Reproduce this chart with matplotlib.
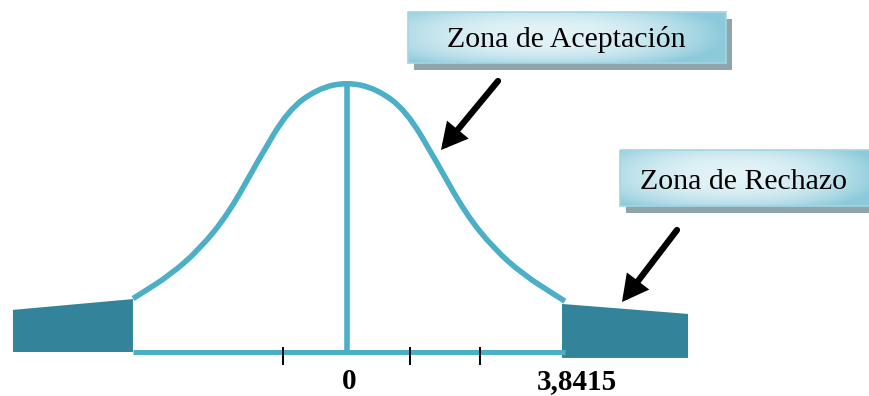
import matplotlib

matplotlib.use("Agg")
import matplotlib.pyplot as plt
import numpy as np
from matplotlib.colors import LinearSegmentedColormap
from matplotlib.patches import PathPatch, Polygon, Rectangle
from matplotlib.path import Path

# bell curve: z position and relative height (peak = 1)
curve_z = [-1.814, -1.75, -1.5, -1.25, -1.0, -0.75, -0.5, -0.25,
           0.0, 0.25, 0.5, 0.75, 1.0, 1.25, 1.5, 1.75, 1.847]
curve_h = [0.198, 0.215, 0.285, 0.380, 0.515, 0.712, 0.895, 0.975,
           1.0, 0.975, 0.895, 0.712, 0.515, 0.380, 0.285, 0.215, 0.188]

# rejection tails: (z, top height) at outer and inner edge, bottom height
tail_left = [(-2.831, 0.156), (-1.814, 0.196)]
tail_left_bottom = 0.0
tail_right = [(1.822, 0.178), (2.890, 0.141)]
tail_right_bottom = -0.022

tick_z = [-0.54, 0.53, 1.13]
value_labels = ["0", "3,8415"]
value_z = [0.02, 1.95]
box_texts = ["Zona de Aceptación", "Zona de Rechazo"]

CURVE = "#4BAFC8"
TAIL = "#33849A"

fig = plt.figure(figsize=(8.7, 3.96), dpi=100)
ax = fig.add_axes([0, 0, 1, 1])
ax.set_xlim(-347 / 118, 523 / 118)
ax.set_ylim(-44 / 270, 352 / 270)
ax.axis("off")

# shaded tails
for pts, bot in ((tail_left, tail_left_bottom), (tail_right, tail_right_bottom)):
    (x0, y0), (x1, y1) = pts
    ax.add_patch(Polygon([(x0, bot), (x0, y0), (x1, y1), (x1, bot)], closed=True,
                         facecolor=TAIL, edgecolor="none", zorder=2))

# baseline between the tails
ax.plot([curve_z[0], curve_z[-1]], [0, 0], color=CURVE, lw=3.6,
        solid_capstyle="butt", zorder=3)

# smooth the read points with quadratic bezier segments (control = read point)
pts = np.column_stack([curve_z, curve_h])
verts = [pts[0]]
codes = [Path.MOVETO]
for i in range(1, len(pts) - 1):
    end = pts[i + 1] if i == len(pts) - 2 else (pts[i] + pts[i + 1]) / 2
    verts += [pts[i], end]
    codes += [Path.CURVE3, Path.CURVE3]
ax.add_patch(PathPatch(Path(verts, codes), facecolor="none", edgecolor=CURVE,
                       lw=4.0, capstyle="butt", zorder=3))
ax.plot([0, 0], [0, 0.985], color=CURVE, lw=4.0, zorder=3)

for t in tick_z:
    ax.plot([t, t], [0.015, -0.046], color="black", lw=1.4, zorder=4)

for lab, x in zip(value_labels, value_z):
    ax.text(x, -0.108, lab, ha="center", va="center", fontsize=21,
            fontweight="bold", family="Liberation Serif", zorder=5)

# label boxes, drawn on an overlay in pixel units
ov = fig.add_axes([0, 0, 1, 1])
ov.axis("off")
ov.patch.set_alpha(0)

boxes = [(408, 12, 318, 51), (620, 150, 262, 56)]
text_pos = [(566, 47), (744, 189)]
gy, gx = np.mgrid[-1:1:80j, -1:1:200j]
grad = np.clip(0.75 * np.abs(gx + 0.15) ** 2.2 + 0.45 * np.abs(gy + 0.1) ** 2.5, 0, 1)
cmap = LinearSegmentedColormap.from_list("bx", ["#E3F3F7", "#8CCADB"])
for (bx, by, bw, bh), (tx, ty), txt in zip(boxes, text_pos, box_texts):
    ov.add_patch(Rectangle((bx + 6, by + 7), bw, bh, facecolor="#8FA4AB",
                           edgecolor="none", zorder=1))
    rect = Rectangle((bx, by), bw, bh, facecolor="none", edgecolor="#A3D6E3",
                     lw=1.2, zorder=3)
    ov.add_patch(rect)
    im = ov.imshow(grad, cmap=cmap, vmin=0, vmax=1, extent=(bx, bx + bw, by + bh, by),
                   aspect="auto", zorder=2, interpolation="bilinear")
    im.set_clip_path(rect)
    ov.text(tx, ty, txt, ha="center", va="baseline", fontsize=21.5,
            family="Liberation Serif", zorder=4)

# arrows pointing at the acceptance curve and the right tail
arrow_from = [(498, 81), (677, 230)]
arrow_to = [(441, 150), (622, 302)]
for start, tip in zip(arrow_from, arrow_to):
    ov.annotate("", xy=tip, xytext=start, xycoords="data", textcoords="data",
                arrowprops=dict(arrowstyle="-|>,head_length=0.6,head_width=0.32",
                                mutation_scale=20, color="black", lw=4.5,
                                shrinkA=0, shrinkB=0, joinstyle="miter"),
                zorder=6)

ov.set_xlim(0, 870)
ov.set_ylim(396, 0)

fig.savefig("out.png", dpi=100)
